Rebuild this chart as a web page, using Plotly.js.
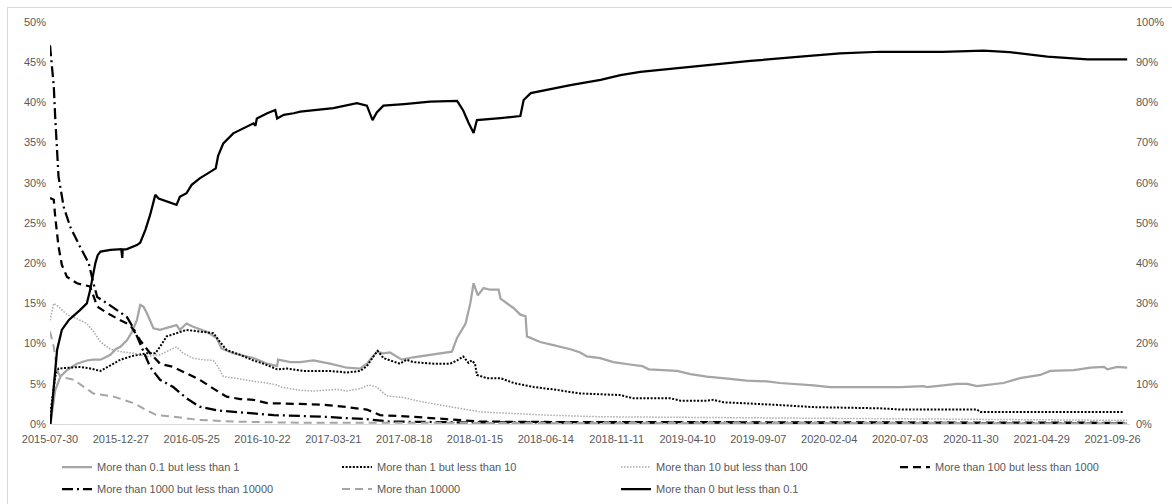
<!DOCTYPE html>
<html><head><meta charset="utf-8">
<script src="https://cdn.plot.ly/plotly-3.0.1.min.js"></script>
<style>
html,body{margin:0;padding:0;background:#fff;}
body{width:1172px;height:504px;overflow:hidden;position:relative;}
#frame{position:absolute;left:7px;top:7px;width:1400px;height:800px;border-left:1px solid #d9d9d9;border-top:1px solid #d9d9d9;}
#chart{position:absolute;left:0;top:0;width:1172px;height:504px;}
</style></head><body>
<div id="frame"></div><div id="chart"></div>
<script>
const FONT = '"Liberation Sans", Arial, sans-serif';
const TXT = '#595959';

const seriesNames = [
  'More than 0.1 but less than 1',
  'More than 1 but less than 10',
  'More than 10 but less than 100',
  'More than 100 but less than 1000',
  'More than 1000 but less than 10000',
  'More than 10000',
  'More than 0 but less than 0.1'
];

const tickDates = ['2015-07-30','2015-12-27','2016-05-25','2016-10-22','2017-03-21','2017-08-18','2018-01-15','2018-06-14','2018-11-11','2019-04-10','2019-09-07','2020-02-04','2020-07-03','2020-11-30','2021-04-29','2021-09-26'];

// More than 0.1 but less than 1 (left axis, %)
const datesA = ['2015-07-31','2015-08-10','2015-08-21','2015-09-04','2015-09-25','2015-10-16','2015-10-30','2015-11-14','2015-12-05','2015-12-16','2015-12-26','2016-01-09','2016-01-20','2016-01-30','2016-02-06','2016-02-13','2016-02-20','2016-03-05','2016-03-19','2016-04-09','2016-04-23','2016-04-30','2016-05-14','2016-05-28','2016-06-25','2016-07-17','2016-07-27','2016-08-21','2016-10-03','2016-11-01','2016-11-22','2016-11-24','2016-12-20','2017-01-10','2017-02-07','2017-03-14','2017-04-19','2017-05-17','2017-05-31','2017-06-21','2017-07-05','2017-07-19','2017-08-13','2017-09-06','2017-10-12','2017-11-09','2017-11-27','2017-12-08','2017-12-26','2018-01-05','2018-01-12','2018-01-21','2018-02-02','2018-02-16','2018-03-06','2018-03-10','2018-04-07','2018-04-21','2018-05-02','2018-05-05','2018-06-02','2018-06-30','2018-08-05','2018-08-26','2018-09-09','2018-10-07','2018-11-04','2018-12-09','2019-01-04','2019-01-18','2019-03-19','2019-04-16','2019-05-21','2019-07-09','2019-08-13','2019-09-25','2019-10-23','2020-01-02','2020-02-06','2020-04-17','2020-07-04','2020-08-22','2020-08-29','2020-11-01','2020-11-22','2020-12-13','2021-01-03','2021-02-07','2021-03-14','2021-04-26','2021-05-17','2021-07-06','2021-08-11','2021-09-08','2021-09-15','2021-10-06','2021-10-27'];
const valuesA = [0.1,4.2,5.9,6.7,7.5,7.9,8.0,8.0,8.6,9.3,9.6,10.4,11.5,12.9,14.8,14.6,13.8,11.9,11.7,12.1,12.3,11.7,12.5,12.1,11.5,10.7,9.4,8.8,8.2,7.5,7.2,8.0,7.7,7.7,7.9,7.5,7.0,6.9,7.5,9.0,8.8,8.9,8.0,8.3,8.6,8.9,9.0,10.7,12.5,15.0,17.5,16.0,16.9,16.7,16.7,15.6,14.4,13.6,13.4,10.9,10.2,9.8,9.3,8.9,8.4,8.2,7.7,7.4,7.2,6.8,6.6,6.2,5.9,5.6,5.4,5.3,5.1,4.8,4.6,4.6,4.6,4.7,4.6,5.0,5.0,4.7,4.85,5.1,5.7,6.1,6.6,6.7,7.0,7.1,6.8,7.1,7.0];

// More than 1 but less than 10
const datesB = ['2015-07-30','2015-08-10','2015-08-17','2015-09-04','2015-10-02','2015-10-23','2015-11-14','2015-12-05','2015-12-26','2016-01-23','2016-02-20','2016-03-09','2016-03-19','2016-04-02','2016-04-23','2016-05-04','2016-05-14','2016-06-11','2016-07-10','2016-07-24','2016-08-07','2016-09-05','2016-10-03','2016-10-24','2016-11-22','2016-12-13','2017-01-03','2017-01-17','2017-03-14','2017-04-19','2017-05-17','2017-05-31','2017-06-14','2017-06-23','2017-07-05','2017-08-09','2017-08-23','2017-09-06','2017-10-19','2017-11-23','2017-12-08','2017-12-21','2018-01-01','2018-01-08','2018-01-15','2018-01-19','2018-02-09','2018-03-10','2018-04-07','2018-05-19','2018-06-30','2018-08-26','2018-10-07','2018-11-18','2018-12-16','2019-03-05','2019-03-26','2019-05-21','2019-06-04','2019-06-25','2019-10-09','2020-01-02','2020-05-22','2020-07-04','2020-12-13','2020-12-20','2021-10-19'];
const valuesB = [1.0,5.9,6.9,7.0,7.1,6.9,6.6,7.3,8.0,8.5,8.8,8.8,9.6,10.9,11.3,11.5,11.7,11.5,11.3,10.2,9.2,8.6,7.9,7.5,6.8,6.9,6.7,6.6,6.6,6.4,6.6,7.2,8.4,9.1,8.2,7.5,8.0,7.7,7.5,7.5,7.9,8.4,7.6,7.9,7.5,6.1,5.7,5.7,5.1,4.6,4.3,3.8,3.7,3.6,3.2,3.2,2.9,2.9,3.0,2.7,2.4,2.1,1.95,1.8,1.8,1.5,1.5];

// More than 10 but less than 100
const datesC = ['2015-07-30','2015-08-07','2015-08-17','2015-09-04','2015-09-25','2015-10-16','2015-10-30','2015-11-14','2015-12-05','2015-12-26','2016-01-23','2016-02-20','2016-03-19','2016-04-02','2016-04-23','2016-05-07','2016-05-28','2016-06-18','2016-07-10','2016-07-20','2016-07-31','2016-09-05','2016-10-03','2016-11-01','2016-11-22','2016-11-29','2017-01-10','2017-02-07','2017-03-29','2017-04-19','2017-05-17','2017-06-04','2017-06-21','2017-07-12','2017-08-16','2017-09-21','2017-11-16','2017-12-29','2018-01-26','2018-04-07','2018-06-17','2018-10-07','2019-06-01','2020-07-04','2021-10-27'];
const valuesC = [12.9,15.0,14.6,13.6,13.1,12.5,11.5,10.2,9.3,9.0,8.8,8.4,8.6,9.0,9.6,8.8,8.2,8.0,7.9,7.1,5.9,5.6,5.3,5.1,4.85,4.6,4.2,4.1,4.3,4.1,4.4,4.85,4.6,3.5,3.3,2.8,2.2,1.8,1.5,1.3,1.1,0.9,0.8,0.6,0.45];

// More than 100 but less than 1000
const datesD = ['2015-07-30','2015-08-07','2015-08-10','2015-08-17','2015-08-24','2015-09-04','2015-09-25','2015-10-23','2015-11-07','2015-11-28','2015-12-26','2016-01-16','2016-02-06','2016-02-27','2016-03-19','2016-04-16','2016-05-14','2016-06-11','2016-07-10','2016-08-07','2016-09-05','2016-10-03','2016-11-01','2017-01-10','2017-02-28','2017-04-19','2017-05-31','2017-06-28','2017-09-06','2017-11-16','2017-12-29','2018-01-26','2018-06-01','2019-06-01','2021-10-27'];
const valuesD = [28.1,27.9,25.8,22.1,19.8,18.3,17.5,17.1,14.6,13.8,12.9,12.3,10.4,8.8,7.5,7.1,6.3,5.5,4.4,3.4,3.1,3.0,2.6,2.5,2.4,2.1,1.8,1.1,0.9,0.6,0.4,0.3,0.25,0.2,0.15];

// More than 1000 but less than 10000
const datesE = ['2015-07-30','2015-08-03','2015-08-07','2015-08-10','2015-08-14','2015-08-17','2015-08-28','2015-09-11','2015-10-02','2015-10-20','2015-10-30','2015-11-07','2015-11-28','2015-12-19','2016-01-09','2016-01-23','2016-02-06','2016-02-27','2016-03-19','2016-04-16','2016-05-14','2016-06-11','2016-07-17','2016-08-21','2016-10-03','2016-11-15','2017-01-10','2017-02-28','2017-05-31','2017-07-19','2018-01-01','2021-10-27'];
const valuesE = [47.1,44.4,42.0,38.2,34.1,30.8,27.0,24.5,22.0,20.0,17.5,15.8,15.0,14.2,13.3,11.9,10.0,7.1,5.5,4.6,3.2,2.15,1.7,1.5,1.3,1.1,1.0,0.9,0.6,0.3,0.2,0.1];

// More than 10000
const datesF = ['2015-07-30','2015-08-07','2015-08-14','2015-08-21','2015-09-18','2015-10-30','2015-12-12','2016-01-23','2016-02-20','2016-03-12','2016-04-16','2016-06-11','2016-08-21','2017-01-10','2021-10-27'];
const valuesF = [11.5,9.6,6.7,5.9,5.5,3.8,3.4,2.6,1.7,1.1,0.9,0.5,0.3,0.15,0.1];

// More than 0 but less than 0.1 (right axis, %)
const datesG = ['2015-07-31','2015-08-07','2015-08-14','2015-08-24','2015-09-08','2015-10-02','2015-10-16','2015-10-23','2015-11-03','2015-11-08','2015-11-14','2015-12-05','2015-12-28','2015-12-30','2015-12-31','2016-01-09','2016-01-30','2016-02-06','2016-02-17','2016-02-27','2016-03-09','2016-03-16','2016-04-02','2016-04-23','2016-04-30','2016-05-14','2016-05-25','2016-06-11','2016-06-29','2016-07-15','2016-07-20','2016-07-31','2016-08-21','2016-09-19','2016-10-03','2016-10-07','2016-10-10','2016-11-01','2016-11-18','2016-11-22','2016-12-06','2016-12-27','2017-01-10','2017-03-21','2017-05-10','2017-05-31','2017-06-12','2017-06-21','2017-07-05','2017-08-18','2017-10-12','2017-12-08','2017-12-21','2018-01-01','2018-01-12','2018-01-19','2018-02-16','2018-03-10','2018-04-21','2018-04-28','2018-05-13','2018-06-13','2018-08-05','2018-10-08','2018-11-19','2018-12-31','2019-02-12','2019-04-16','2019-08-21','2019-12-05','2020-02-27','2020-05-22','2020-10-01','2020-12-27','2021-02-20','2021-05-11','2021-07-01','2021-08-04','2021-10-27'];
const valuesG = [0,10.2,18.4,23.4,25.9,28.4,30.0,33.3,40.0,42.0,42.9,43.3,43.5,41.3,43.4,43.5,44.5,45.1,48.3,52.0,57.0,56.1,55.3,54.5,56.5,57.4,59.5,61.1,62.4,63.6,66.7,69.8,72.3,74.0,74.8,74.2,76.0,77.3,78.1,76.0,76.9,77.3,77.7,78.6,79.8,79.2,75.6,77.5,79.2,79.6,80.2,80.4,78.0,75.0,72.4,75.6,75.8,76.1,76.6,80.6,82.3,83.1,84.3,85.6,86.8,87.6,88.1,89.0,90.3,91.4,92.2,92.6,92.6,92.9,92.5,91.4,91.0,90.7,90.7];

const styles = [
  {color:'#a5a5a5', width:2.25, dash:'solid'},
  {color:'#000000', width:2, dash:'2px,1.6px'},
  {color:'#a9a9a9', width:1.5, dash:'1.5px,1.5px'},
  {color:'#000000', width:2.25, dash:'8px,5px'},
  {color:'#000000', width:2.25, dash:'11px,4px,2px,4px'},
  {color:'#a5a5a5', width:2, dash:'8px,5px'},
  {color:'#000000', width:2.25, dash:'solid'}
];
const allDates = [datesA,datesB,datesC,datesD,datesE,datesF,datesG];
const allValues = [valuesA,valuesB,valuesC,valuesD,valuesE,valuesF,valuesG];
const legendIds = ['legend','legend2','legend3','legend4','legend5','legend6','legend7'];

const traces = seriesNames.map((n,i)=>({
  type:'scatter', mode:'lines', name:n,
  x: allDates[i], y: allValues[i],
  yaxis: i===6 ? 'y2' : 'y',
  line: styles[i],
  legend: legendIds[i],
  hoverinfo:'skip'
}));

// legend slot positions (px in container): item origin x, row centre y
const legPos = [[57,467],[337,467],[616,467],[895,467],[57,489],[337,489],[616,489]];
function leg(p){
  return {xref:'container', yref:'container', x:p[0]/1172, y:1-p[1]/504,
    xanchor:'left', yanchor:'middle', orientation:'h', bgcolor:'rgba(0,0,0,0)',
    borderwidth:0, font:{family:FONT, size:11, color:TXT}};
}

const layout = {
  width:1172, height:504,
  margin:{l:50, r:42, t:22, b:80},
  paper_bgcolor:'rgba(0,0,0,0)', plot_bgcolor:'rgba(0,0,0,0)',
  font:{family:FONT, size:11, color:TXT},
  showlegend:true,
  xaxis:{type:'date', range:['2015-07-30','2021-11-02'], tickmode:'array',
    tickvals:tickDates, ticktext:tickDates, showgrid:false, zeroline:false,
    showline:true, linecolor:'#d9d9d9', linewidth:1, ticks:'', color:TXT,
    ticklabelstandoff:5, tickfont:{family:FONT,size:11,color:TXT}},
  yaxis:{range:[0,50], dtick:5, tick0:0, ticksuffix:'%', showgrid:false, zeroline:false,
    showline:false, ticks:'', color:TXT, ticklabelstandoff:3,
    tickfont:{family:FONT,size:11,color:TXT}},
  yaxis2:{range:[0,100], dtick:10, tick0:0, ticksuffix:'%', overlaying:'y', side:'right',
    showgrid:false, zeroline:false, showline:false, ticks:'', color:TXT, ticklabelstandoff:5,
    tickfont:{family:FONT,size:11,color:TXT}}
};
legendIds.forEach((id,i)=>{ layout[id] = leg(legPos[i]); });

Plotly.newPlot('chart', traces, layout, {staticPlot:true, displayModeBar:false});
</script>
</body></html>
